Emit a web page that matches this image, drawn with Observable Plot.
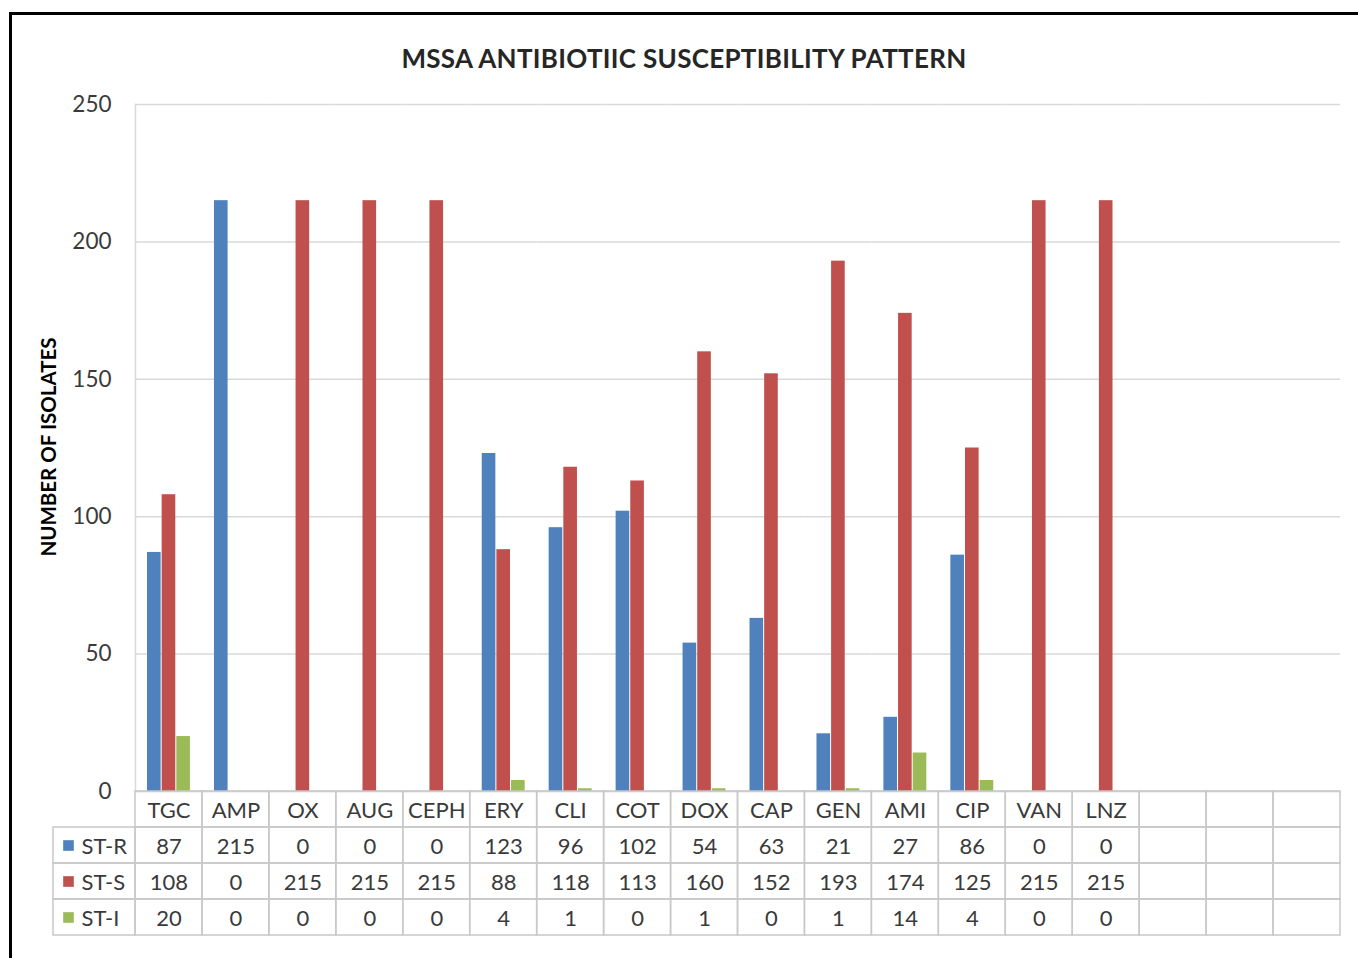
<!DOCTYPE html>
<html>
<head>
<meta charset="utf-8">
<script src="https://cdn.jsdelivr.net/npm/d3@7"></script>
<script src="https://cdn.jsdelivr.net/npm/@observablehq/plot@0.6"></script>
<style>
  html, body { margin: 0; padding: 0; background: #fff; }
  #page { position: relative; width: 1358px; height: 958px; overflow: hidden; font-family: Lato, "Open Sans", sans-serif; }
  #border { position: absolute; left: 9px; top: 12px; width: 1400px; height: 1000px; border-left: 3px solid #000; border-top: 3px solid #000; box-sizing: border-box; }
  #title { position: absolute; left: 0; width: 1368px; top: 42px; text-align: center; font-weight: 700; font-size: 26px; color: #262626; z-index: 2; letter-spacing: 0.3px; }
  #ytitle { position: absolute; left: 48px; top: 447px; transform: translate(-50%, -50%) rotate(-90deg); font-weight: 700; font-size: 20.5px; color: #000; white-space: nowrap; z-index: 2; }
  #chart, #table { position: absolute; left: 0; }
  #chart { top: 0; }
  #table { top: 791px; }
  svg { overflow: visible; }
</style>
</head>
<body>
<div id="page">
  <div id="border"></div>
  <div id="title">MSSA ANTIBIOTIIC SUSCEPTIBILITY PATTERN</div>
  <div id="ytitle">NUMBER OF ISOLATES</div>
  <div id="chart"></div>
  <div id="table"></div>
</div>
<script>
// ---- data ----
const categories = ["TGC","AMP","OX","AUG","CEPH","ERY","CLI","COT","DOX","CAP","GEN","AMI","CIP","VAN","LNZ"];
const seriesNames = ["ST-R","ST-S","ST-I"];
const stR = [87,215,0,0,0,123,96,102,54,63,21,27,86,0,0];
const stS = [108,0,215,215,215,88,118,113,160,152,193,174,125,215,215];
const stI = [20,0,0,0,0,4,1,0,1,0,1,14,4,0,0];
const emptyColumns = ["\u200b1","\u200b2","\u200b3"];
const yTicks = [0,50,100,150,200,250];
const colors = ["#4F81BD","#C0504D","#9BBB59"];

// ---- derived tables ----
const columns = categories.concat(emptyColumns);
const seriesValues = [stR, stS, stI];
const rows = [];
categories.forEach((c, i) => seriesNames.forEach((s, j) => rows.push({category: c, series: s, value: seriesValues[j][i]})));

const W = 1358, mL = 135, mR = 18;
const textColor = "#3a3a3a";
const gridColor = "#d9d9d9";

// ---- chart ----
const chart = Plot.plot({
  width: W,
  height: 792,
  marginLeft: mL,
  marginRight: mR,
  marginTop: 104,
  marginBottom: 1,
  style: {fontFamily: "Lato, 'Open Sans', sans-serif", background: "transparent"},
  fx: {domain: columns, padding: 0, round: false, axis: null},
  x: {domain: seriesNames, paddingInner: 0.07, paddingOuter: 0.82, round: false, axis: null},
  y: {domain: [0, 250], ticks: yTicks, axis: null},
  color: {domain: seriesNames, range: colors},
  marks: [
    Plot.gridY(yTicks, {stroke: gridColor, strokeOpacity: 1, strokeWidth: 1.5}),
    Plot.ruleY(columns, {fx: d => d, y: 0, stroke: gridColor, strokeWidth: 1.5}),
    Plot.axisY(yTicks, {tickSize: 0, tickPadding: 24, fontSize: 22.5, fill: textColor, label: null, tickFormat: d => String(d)}),
    Plot.barY(rows, {fx: "category", x: "series", y: "value", fill: "series"}),
    Plot.frame({anchor: "left", stroke: gridColor, strokeWidth: 1.5, facetAnchor: "left"})
  ]
});
document.getElementById("chart").appendChild(chart);

// ---- data table ----
const tableRows = ["header"].concat(seriesNames);
const cells = [];
tableRows.forEach(r => columns.forEach(c => cells.push({row: r, col: c})));
const texts = [];
categories.forEach((c, i) => {
  texts.push({row: "header", col: c, label: c});
  seriesNames.forEach((s, j) => texts.push({row: s, col: c, label: String(seriesValues[j][i])}));
});
const legend = seriesNames.map((s, j) => ({row: s, color: colors[j]}));

const table = Plot.plot({
  width: W,
  height: 145,
  marginLeft: mL,
  marginRight: mR,
  marginTop: 0,
  marginBottom: 1,
  style: {fontFamily: "Lato, 'Open Sans', sans-serif", background: "transparent"},
  x: {domain: columns, padding: 0, round: false, axis: null},
  y: {domain: tableRows, padding: 0, round: false, axis: null},
  marks: [
    Plot.cell(cells, {x: "col", y: "row", fill: "none", stroke: "#c8c8c8", strokeWidth: 1.5, inset: 0}),
    Plot.cell(legend, {y: "row", fill: "none", stroke: "#c8c8c8", strokeWidth: 1.5, insetLeft: -82, insetRight: W - mL - mR, insetTop: 0, insetBottom: 0}),
    Plot.text(texts, {x: "col", y: "row", text: "label", fontSize: 22, fill: textColor, dy: 1}),
    Plot.dot(legend, {y: "row", fill: "color", symbol: "square", r: 6, frameAnchor: "left", dx: -67}),
    Plot.text(legend, {y: "row", text: "row", fill: textColor, frameAnchor: "left", dx: -54, fontSize: 22, textAnchor: "start", dy: 1})
  ]
});
document.getElementById("table").appendChild(table);
</script>
</body>
</html>
